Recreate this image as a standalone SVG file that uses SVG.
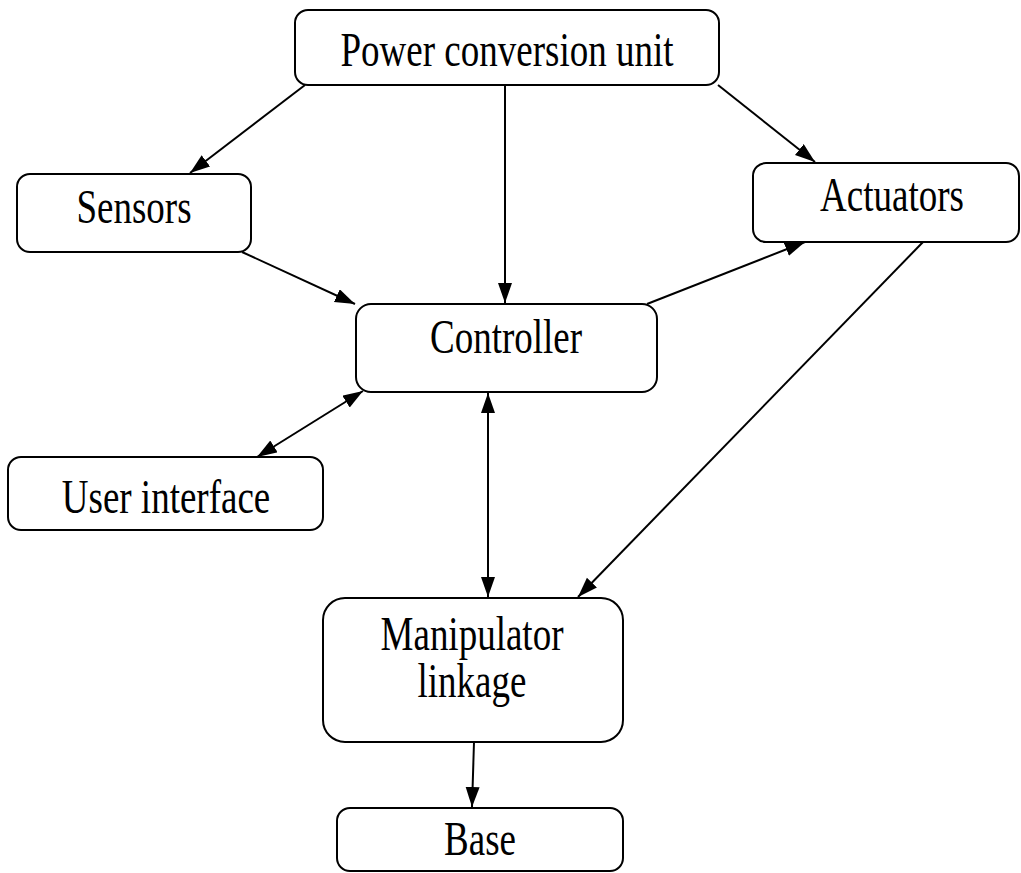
<svg xmlns="http://www.w3.org/2000/svg" width="1021" height="873" viewBox="0 0 1021 873">
<style>
.box{fill:#fff;stroke:#000;stroke-width:2}
.lbl{font-family:"Liberation Serif","Times New Roman",serif;font-size:37px;fill:#000;text-anchor:middle}
.edge{stroke:#000;stroke-width:2;fill:none;marker-end:url(#ah)}
.bi{marker-start:url(#ah)}
</style>
<defs>
<marker id="ah" markerUnits="userSpaceOnUse" markerWidth="22" markerHeight="16" refX="20" refY="7" orient="auto-start-reverse">
<path d="M0,0 L20,7 L0,14 z" fill="#000"/>
</marker>
</defs>
<rect width="1021" height="873" fill="#fff"/>
<g id="connectors">
<line class="edge" x1="305" y1="85" x2="190" y2="173"/>
<line class="edge" x1="505" y1="85" x2="505" y2="303"/>
<line class="edge" x1="718" y1="85" x2="815" y2="162"/>
<line class="edge" x1="242" y1="252" x2="355" y2="304"/>
<line class="edge" x1="647" y1="304" x2="805" y2="242"/>
<line class="edge bi" x1="257" y1="457" x2="363" y2="391"/>
<line class="edge bi" x1="488" y1="393" x2="488" y2="597"/>
<line class="edge" x1="923" y1="242" x2="578" y2="597"/>
<line class="edge" x1="474" y1="742" x2="472" y2="807"/>
</g>
<g id="power">
<rect class="box" x="295" y="10" width="424" height="75" rx="13"/>
<text class="lbl" transform="matrix(1,0,0,1.3,507,66)">Power conversion unit</text>
</g>
<g id="sensors">
<rect class="box" x="17" y="174" width="234" height="78" rx="13"/>
<text class="lbl" transform="matrix(1,0,0,1.3,134,223)">Sensors</text>
</g>
<g id="actuators">
<rect class="box" x="753" y="163" width="266" height="79" rx="13"/>
<text class="lbl" transform="matrix(1,0,0,1.3,892,211)">Actuators</text>
</g>
<g id="controller">
<rect class="box" x="356" y="304" width="301" height="88" rx="15"/>
<text class="lbl" transform="matrix(1,0,0,1.3,506,353)">Controller</text>
</g>
<g id="user-interface">
<rect class="box" x="8" y="457" width="315" height="73" rx="13"/>
<text class="lbl" transform="matrix(1,0,0,1.3,166,513)">User interface</text>
</g>
<g id="manipulator">
<rect class="box" x="323" y="598" width="300" height="144" rx="22"/>
<text class="lbl" transform="matrix(1,0,0,1.3,472,650)">Manipulator</text>
<text class="lbl" transform="matrix(1,0,0,1.3,472,697)">linkage</text>
</g>
<g id="base">
<rect class="box" x="337" y="808" width="286" height="63" rx="13"/>
<text class="lbl" transform="matrix(1,0,0,1.3,480,855)">Base</text>
</g>
</svg>
